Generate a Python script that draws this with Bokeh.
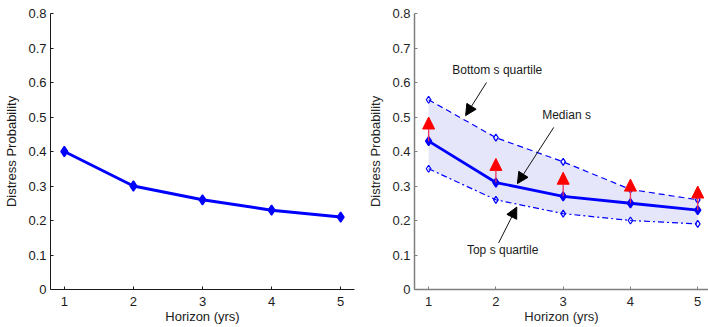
from bokeh.plotting import figure
from bokeh.layouts import row
from bokeh.models import Arrow, NormalHead, ColumnDataSource
from bokeh.core.properties import value
from bokeh.embed import file_html
from bokeh.resources import INLINE

# ---- data ----
horizon = [1, 2, 3, 4, 5]
left_prob = [0.40, 0.30, 0.26, 0.23, 0.21]
median_s = [0.43, 0.31, 0.27, 0.25, 0.23]
bottom_quartile = [0.55, 0.44, 0.37, 0.29, 0.26]
top_quartile = [0.35, 0.26, 0.22, 0.20, 0.19]
arrow_tip = [0.50, 0.38, 0.34, 0.32, 0.30]

y_ticks = [0, 0.1, 0.2, 0.3, 0.4, 0.5, 0.6, 0.7, 0.8]
x_ticks = [1, 2, 3, 4, 5]

note_text = ["Bottom s quartile", "Median s", "Top s quartile"]
note_x = [2.02, 3.05, 2.10]
note_y = [0.637, 0.506, 0.114]
note_arrow_x0 = [1.86, 2.86, 2.04]
note_arrow_y0 = [0.600, 0.470, 0.135]
note_arrow_x1 = [1.55, 2.32, 2.31]
note_arrow_y1 = [0.504, 0.307, 0.239]

FONT = "Liberation Sans"
BLUE = "#0000ff"


def style(p, axis_color, text_color):
    p.outline_line_color = None
    p.xgrid.visible = False
    p.ygrid.visible = False
    for ax in (p.xaxis[0], p.yaxis[0]):
        ax.axis_line_color = axis_color
        ax.major_tick_line_color = axis_color
        ax.major_tick_in = 3
        ax.major_tick_out = 0
        ax.minor_tick_line_color = None
        ax.major_label_text_font = FONT
        ax.major_label_text_font_size = "13px"
        ax.major_label_text_color = text_color
        ax.axis_label_text_font = FONT
        ax.axis_label_text_font_size = "13px"
        ax.axis_label_text_font_style = "normal"
        ax.axis_label_text_color = text_color
    p.xaxis.ticker = x_ticks
    p.yaxis.ticker = y_ticks
    p.yaxis.major_label_overrides = {0: "0"}
    p.xaxis.axis_label = "Horizon (yrs)"
    p.yaxis.axis_label = "Distress Probability"
    p.xaxis.major_label_standoff = 7
    p.xaxis.axis_label_standoff = 0
    p.yaxis.major_label_standoff = 4
    p.yaxis.axis_label_standoff = 6


# ---- left panel ----
p1 = figure(width=360, height=327, x_range=(0.8, 5.2), y_range=(0, 0.8),
            output_backend="svg", toolbar_location=None,
            min_border_left=50, min_border_right=6, min_border_top=13,
            min_border_bottom=35)
style(p1, "#1a1a1a", "#1a1a1a")
p1.line(horizon, left_prob, line_color=BLUE, line_width=3)
p1.scatter(horizon, left_prob, marker="diamond", size=10,
           fill_color=BLUE, line_color=BLUE, line_width=1.5)

# ---- right panel ----
p2 = figure(width=348, height=327, x_range=(0.79, 5.16), y_range=(0, 0.8),
            output_backend="svg", toolbar_location=None,
            min_border_left=54, min_border_right=0, min_border_top=13,
            min_border_bottom=38)
style(p2, "#7f7f7f", "#262626")
p2.xaxis.axis_line_width = 1.5
p2.yaxis.axis_line_width = 1.5

p2.varea(x=horizon, y1=top_quartile, y2=bottom_quartile,
         fill_color="#e6e6fa", fill_alpha=1.0)
p2.line(horizon, bottom_quartile, line_color=BLUE, line_width=1.2,
        line_dash="6 4")
p2.line(horizon, top_quartile, line_color=BLUE, line_width=1.2,
        line_dash="6 3 2 3")
p2.scatter(horizon, bottom_quartile, marker="diamond", size=7,
           fill_color=None, line_color=BLUE, line_width=1.2)
p2.scatter(horizon, top_quartile, marker="diamond", size=7,
           fill_color=None, line_color=BLUE, line_width=1.2)
p2.line(horizon, median_s, line_color=BLUE, line_width=2.8)
p2.scatter(horizon, median_s, marker="diamond", size=9,
           fill_color=BLUE, line_color=BLUE, line_width=1.5)

red_src = ColumnDataSource(dict(x0=horizon, y0=median_s, x1=horizon, y1=arrow_tip))
p2.add_layout(Arrow(source=red_src, x_start="x0", y_start="y0",
                    x_end="x1", y_end="y1",
                    line_color="#ee3355", line_width=1.3,
                    end=NormalHead(size=12, fill_color="#ff0000",
                                   line_color="#ff0000", line_width=1)))

note_src = ColumnDataSource(dict(x0=note_arrow_x0, y0=note_arrow_y0,
                                 x1=note_arrow_x1, y1=note_arrow_y1))
p2.add_layout(Arrow(source=note_src, x_start="x0", y_start="y0",
                    x_end="x1", y_end="y1",
                    line_color="#111111", line_width=1,
                    end=NormalHead(size=11, fill_color="#000000",
                                   line_color="#000000", line_width=1)))

p2.text(x=note_x, y=note_y, text=note_text, text_font=value(FONT),
        text_font_size="12px", text_align="center", text_baseline="middle",
        text_color="#1a1a1a")

layout = row(p1, p2)
open("out.html", "w").write(file_html(layout, INLINE))
